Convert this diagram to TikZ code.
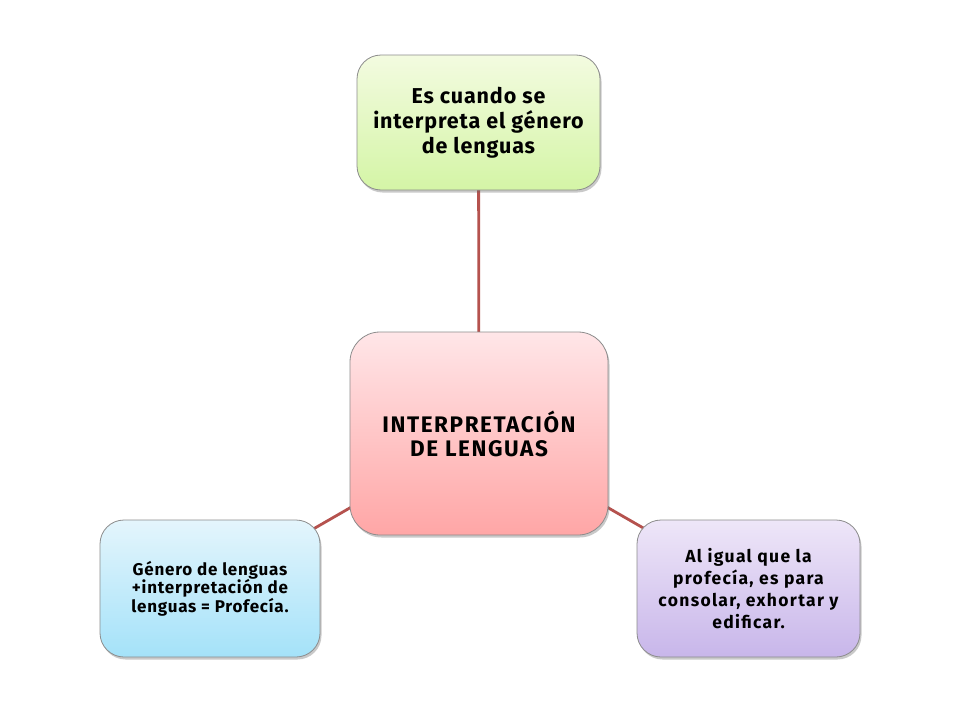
\documentclass[tikz,border=0pt]{standalone}
\usepackage{fontspec}
\setmainfont{Fira Sans}
\usetikzlibrary{shadows}
\pgfdeclarelayer{bg}
\pgfsetlayers{bg,main}
\definecolor{linkred}{HTML}{B5524E}
\definecolor{boxedge}{HTML}{8C8C8C}
\tikzset{
  box/.style={draw=boxedge, line width=0.8pt, rounded corners=24pt, align=center,
    drop shadow={shadow xshift=1.5pt, shadow yshift=-2.5pt, opacity=0.35, fill=black!60},
    inner sep=0pt, text=black},
  link/.style={draw=linkred, line width=2.8pt},
}
\begin{document}
\begin{tikzpicture}[x=1pt,y=-1pt]
\useasboundingbox (0,0) rectangle (960,720);
\node[box, minimum width=243pt, minimum height=135pt, top color={rgb,255:red,243;green,251;blue,224}, bottom color={rgb,255:red,212;green,245;blue,166}, font=\bfseries\fontsize{21.5}{25}\selectfont\addfontfeatures{LetterSpace=4}] (top) at (478.5,122.5) {Es cuando se\\interpreta el género\\de lenguas};
\node[box, minimum width=258pt, minimum height=203pt, rounded corners=30pt, top color={rgb,255:red,255;green,230;blue,232}, bottom color={rgb,255:red,255;green,166;blue,166}, font=\bfseries\fontsize{22.5}{24}\selectfont\addfontfeatures{LetterSpace=7}] (mid) at (479,433.5) {INTERPRETACIÓN\\DE LENGUAS};
\node[box, minimum width=220pt, minimum height=137pt, top color={rgb,255:red,228;green,245;blue,252}, bottom color={rgb,255:red,164;green,226;blue,249}, font=\bfseries\fontsize{17}{18.5}\selectfont\addfontfeatures{LetterSpace=4.5}] (left) at (210,588.5) {Género de lenguas\\+interpretación de\\lenguas = Profecía.};
\node[box, minimum width=223pt, minimum height=137pt, top color={rgb,255:red,238;green,230;blue,248}, bottom color={rgb,255:red,200;green,182;blue,234}, font=\bfseries\fontsize{17.5}{22}\selectfont\addfontfeatures{LetterSpace=7.5}] (right) at (748.5,588.5) {Al igual que la\\profecía, es para\\consolar, exhortar y\\edificar.};
\begin{pgfonlayer}{bg}
\fill[white] (0,0) rectangle (960,720);
\draw[link] (top.center) -- (mid.center);
\draw[link] (mid.center) -- (left.center);
\draw[link] (mid.center) -- (right.center);
\end{pgfonlayer}
\end{tikzpicture}
\end{document}
